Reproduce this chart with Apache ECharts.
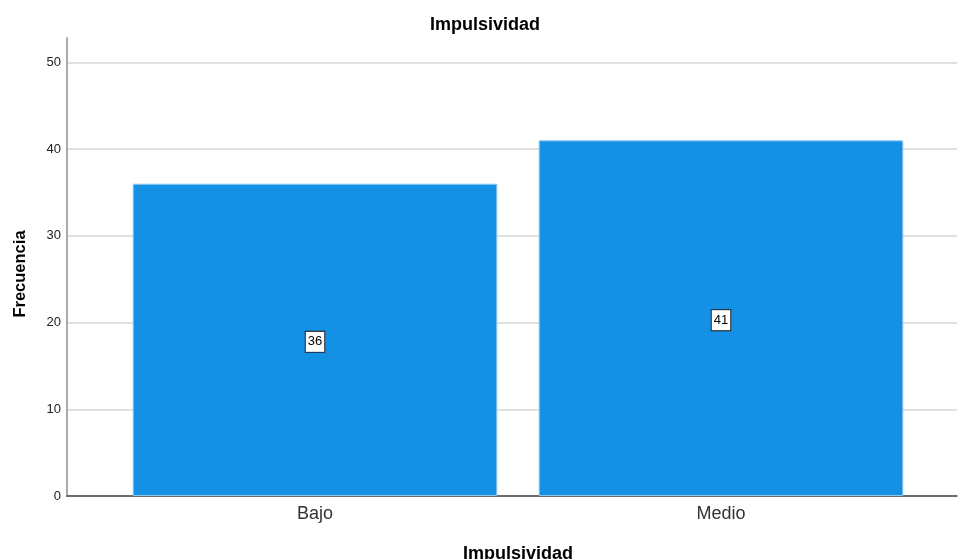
<!DOCTYPE html>
<html>
<head>
<meta charset="utf-8">
<script src="https://cdn.jsdelivr.net/npm/echarts@6/dist/echarts.min.js"></script>
<style>html,body{margin:0;padding:0;background:#fff}#c{width:958px;height:559px}</style>
</head>
<body>
<div id="c"></div>
<script>
const categories = ['Bajo', 'Medio'];
const frecuencia = [36, 41];
const yTicks = [0, 10, 20, 30, 40, 50];

const font = '"Liberation Sans", Arial, sans-serif';
const chart = echarts.init(document.getElementById('c'), null, {renderer: 'canvas'});
chart.setOption({
  animation: false,
  backgroundColor: '#fff',
  title: {
    text: 'Impulsividad', left: 425, top: 11,
    textStyle: {fontFamily: font, fontSize: 18, fontWeight: 'bold', color: '#000'}
  },
  grid: [
    {left: 67, right: 1, top: 38, bottom: 63, outerBoundsMode: 'none', containLabel: false},
    {left: 112, right: 34, top: 38, bottom: 63, outerBoundsMode: 'none', containLabel: false}
  ],
  xAxis: [
    {
      gridIndex: 0, type: 'category', data: [''],
      axisLine: {lineStyle: {color: '#444', width: 1.5}},
      axisTick: {show: false}, axisLabel: {show: false},
      name: 'Impulsividad', nameLocation: 'middle', nameGap: 49,
      nameTextStyle: {fontFamily: font, fontSize: 18, fontWeight: 'bold', color: '#000', padding: [0, 0, 0, 12]}
    },
    {
      gridIndex: 1, type: 'category', data: categories,
      axisLine: {show: false}, axisTick: {show: false},
      axisLabel: {fontFamily: font, fontSize: 18, color: '#333', margin: 9}
    }
  ],
  yAxis: [
    {
      gridIndex: 0, type: 'value', min: 0, max: 52.8, interval: 10,
      axisLine: {show: true, lineStyle: {color: '#aaa', width: 2}},
      axisTick: {show: false},
      splitLine: {show: true, showMaxLine: false, lineStyle: {color: '#d6d6d6', width: 1.5}},
      axisLabel: {
        fontFamily: font, fontSize: 13, color: '#222', margin: 6, showMaxLabel: false,
        formatter: v => (yTicks.indexOf(v) >= 0 ? String(v) : '')
      },
      name: 'Frecuencia', nameLocation: 'middle', nameGap: 38,
      nameTextStyle: {fontFamily: font, fontSize: 16.5, fontWeight: 'bold', color: '#000', padding: [0, 14, 0, 0]}
    },
    {gridIndex: 1, type: 'value', min: 0, max: 52.8, interval: 10, show: false, splitLine: {show: false}}
  ],
  series: [{
    type: 'bar', xAxisIndex: 1, yAxisIndex: 1,
    data: frecuencia, barWidth: 364.6,
    itemStyle: {color: '#1490e4', borderColor: '#8ccaf2', borderWidth: 1},
    label: {
      show: true, position: 'inside', offset: [0, 2],
      fontFamily: font, fontSize: 13, color: '#000',
      backgroundColor: '#fff', borderColor: '#222', borderWidth: 1, padding: [4, 2, 3, 2]
    }
  }]
});
</script>
</body>
</html>
